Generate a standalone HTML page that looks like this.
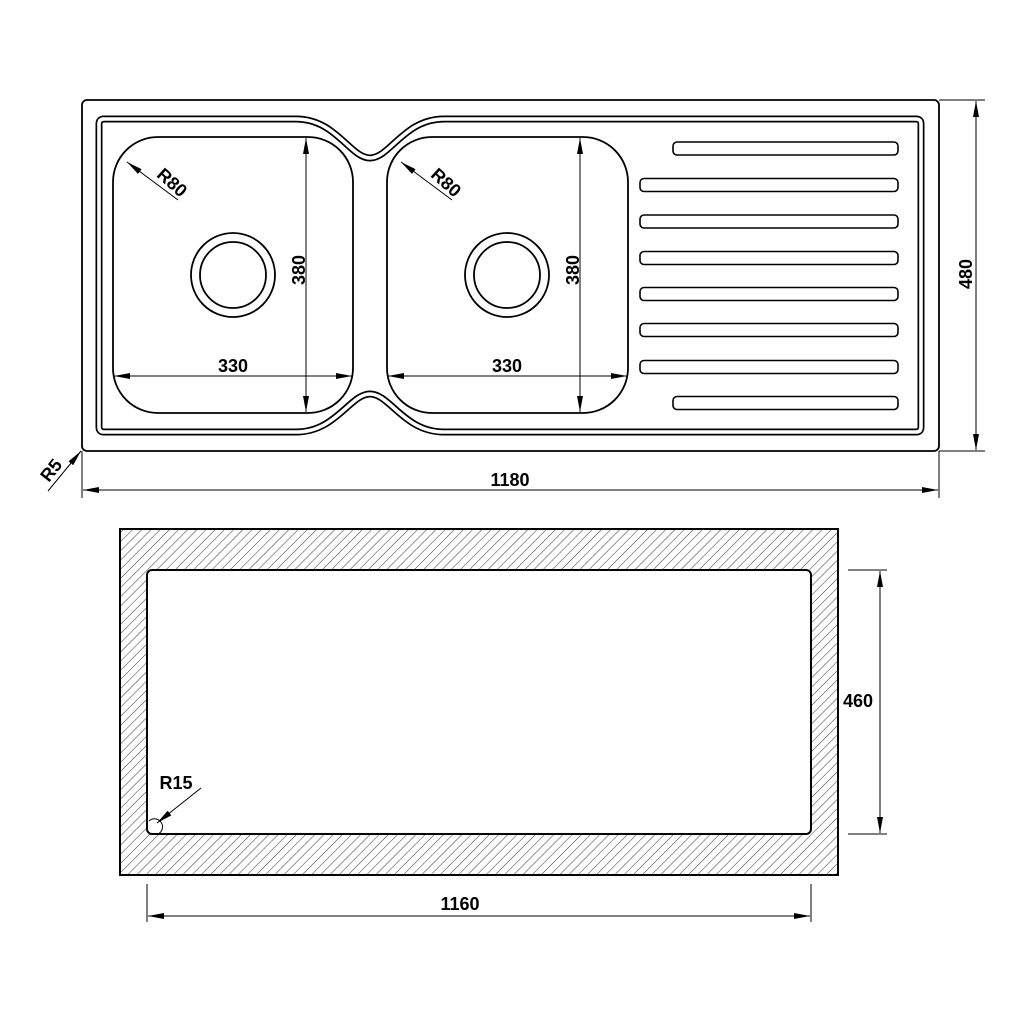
<!DOCTYPE html>
<html><head><meta charset="utf-8"><style>
html,body{margin:0;padding:0;background:#fff;}
svg{display:block;}
text{font-family:"Liberation Sans",Arial,sans-serif;font-weight:bold;font-size:18px;fill:#000;}
</style></head><body>
<svg width="1024" height="1024" viewBox="0 0 1024 1024" xmlns="http://www.w3.org/2000/svg">
<defs>
<pattern id="h" patternUnits="userSpaceOnUse" width="6.5" height="6.5" patternTransform="rotate(45)">
<line x1="0" y1="0" x2="0" y2="6.5" stroke="#000" stroke-width="0.8"/>
</pattern>
<marker id="a" viewBox="0 0 16 6" refX="16" refY="3" markerWidth="16" markerHeight="6" markerUnits="userSpaceOnUse" orient="auto-start-reverse">
<path d="M0,0 L16,3 L0,6 z" fill="#000"/>
</marker>
</defs>

<!-- top view -->
<rect x="82" y="100" width="857" height="351" rx="5" fill="none" stroke="#000" stroke-width="1.8"/>
<path d="M102,119 H296 C336,119 350,158 370,158 C390,158 404,119 444,119 H916 Q921,119 921,124 V427 Q921,432 916,432 H444 C404,432 390,394 370,394 C350,394 336,432 296,432 H104 Q99,432 99,427 V124 Q99,119 104,119 Z" fill="none" stroke="#000" stroke-width="7"/>
<path d="M102,119 H296 C336,119 350,158 370,158 C390,158 404,119 444,119 H916 Q921,119 921,124 V427 Q921,432 916,432 H444 C404,432 390,394 370,394 C350,394 336,432 296,432 H104 Q99,432 99,427 V124 Q99,119 104,119 Z" fill="none" stroke="#fff" stroke-width="3.6"/>

<rect x="113" y="137" width="240" height="276" rx="45" fill="none" stroke="#000" stroke-width="1.8"/>
<rect x="387" y="137" width="241" height="276" rx="45" fill="none" stroke="#000" stroke-width="1.8"/>
<circle cx="233" cy="275" r="42" fill="none" stroke="#000" stroke-width="1.8"/>
<circle cx="233" cy="275" r="33" fill="none" stroke="#000" stroke-width="1.8"/>
<circle cx="507" cy="275" r="42" fill="none" stroke="#000" stroke-width="1.8"/>
<circle cx="507" cy="275" r="33" fill="none" stroke="#000" stroke-width="1.8"/>

<g fill="none" stroke="#000" stroke-width="1.6">
<rect x="673" y="142" width="225" height="13" rx="4"/>
<rect x="640" y="178.5" width="258" height="13" rx="4"/>
<rect x="640" y="215" width="258" height="13" rx="4"/>
<rect x="640" y="251.5" width="258" height="13" rx="4"/>
<rect x="640" y="287.5" width="258" height="13" rx="4"/>
<rect x="640" y="323.5" width="258" height="13" rx="4"/>
<rect x="640" y="360.5" width="258" height="13" rx="4"/>
<rect x="673" y="396.5" width="225" height="13" rx="4"/>
</g>

<g stroke="#000" stroke-width="1" fill="none">
<line x1="306" y1="138" x2="306" y2="412" marker-start="url(#a)" marker-end="url(#a)"/>
<line x1="580" y1="138" x2="580" y2="412" marker-start="url(#a)" marker-end="url(#a)"/>
<line x1="114" y1="376" x2="352" y2="376" marker-start="url(#a)" marker-end="url(#a)"/>
<line x1="388" y1="376" x2="627" y2="376" marker-start="url(#a)" marker-end="url(#a)"/>
<line x1="178" y1="200" x2="127" y2="162" marker-end="url(#a)"/>
<line x1="452" y1="200" x2="401" y2="162" marker-end="url(#a)"/>
<line x1="939" y1="100" x2="985" y2="100"/>
<line x1="939" y1="451" x2="985" y2="451"/>
<line x1="976" y1="101" x2="976" y2="450" marker-start="url(#a)" marker-end="url(#a)"/>
<line x1="82" y1="451" x2="82" y2="498"/>
<line x1="939" y1="451" x2="939" y2="498"/>
<line x1="83" y1="490" x2="938" y2="490" marker-start="url(#a)" marker-end="url(#a)"/>
<line x1="48" y1="491" x2="81" y2="451" marker-end="url(#a)"/>
</g>
<text x="0" y="0" transform="translate(305,270) rotate(-90)" text-anchor="middle">380</text>
<text x="0" y="0" transform="translate(579,270) rotate(-90)" text-anchor="middle">380</text>
<text x="233" y="372" text-anchor="middle">330</text>
<text x="507" y="372" text-anchor="middle">330</text>
<text x="0" y="0" transform="translate(168,187) rotate(42)" text-anchor="middle">R80</text>
<text x="0" y="0" transform="translate(442,187) rotate(42)" text-anchor="middle">R80</text>
<text x="0" y="0" transform="translate(972,274) rotate(-90)" text-anchor="middle">480</text>
<text x="510" y="486" text-anchor="middle">1180</text>
<text x="0" y="0" transform="translate(56,474) rotate(-52)" text-anchor="middle">R5</text>

<!-- bottom cutout view -->
<path fill-rule="evenodd" fill="url(#h)" stroke="none" d="M120,529 H838 V875 H120 Z M152,570 H806 Q811,570 811,575 V829 Q811,834 806,834 H152 Q147,834 147,829 V575 Q147,570 152,570 Z"/>
<rect x="120" y="529" width="718" height="346" fill="none" stroke="#000" stroke-width="2"/>
<rect x="147" y="570" width="664" height="264" rx="5" fill="none" stroke="#000" stroke-width="2"/>

<g stroke="#000" stroke-width="1" fill="none">
<line x1="848" y1="570" x2="887" y2="570"/>
<line x1="848" y1="834" x2="887" y2="834"/>
<line x1="880" y1="571" x2="880" y2="833" marker-start="url(#a)" marker-end="url(#a)"/>
<line x1="147" y1="884" x2="147" y2="922"/>
<line x1="811" y1="884" x2="811" y2="922"/>
<line x1="148" y1="916" x2="810" y2="916" marker-start="url(#a)" marker-end="url(#a)"/>
<line x1="201" y1="788" x2="157" y2="823" marker-end="url(#a)"/>
<path d="M149,821 A8,8 0 1 1 158,834"/>
</g>
<text x="858" y="707" text-anchor="middle">460</text>
<text x="460" y="910" text-anchor="middle">1160</text>
<text x="176" y="789" text-anchor="middle">R15</text>
</svg>
</body></html>
